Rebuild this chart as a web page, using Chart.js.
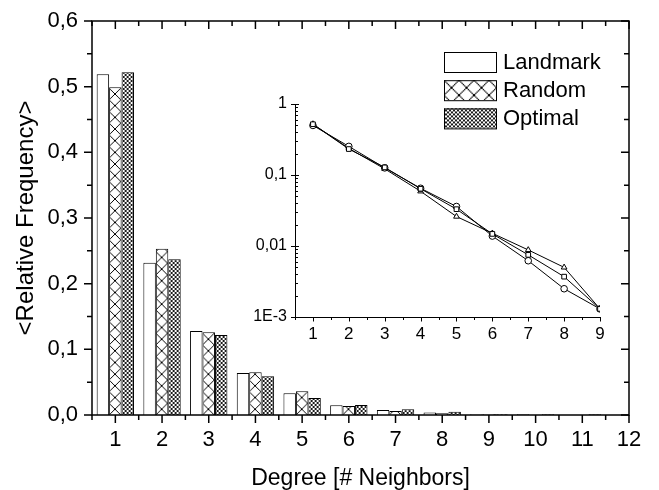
<!DOCTYPE html>
<html><head><meta charset="utf-8">
<script src="https://cdn.jsdelivr.net/npm/chart.js@4.4.1/dist/chart.umd.min.js"></script>
<style>
html,body{margin:0;padding:0;background:#fff;}
#wrap{position:relative;width:659px;height:490px;background:#fff;}
#main{position:absolute;left:0;top:0;}
#inset{position:absolute;left:240px;top:88px;}
</style></head><body>
<div id="wrap"><canvas id="main" width="659" height="490"></canvas><canvas id="inset" width="390" height="262"></canvas></div>
<script>
// ---- data ----
const degrees  = [1, 2, 3, 4, 5, 6, 7, 8, 9, 10, 11];
const landmark = [0.519, 0.232, 0.128, 0.064, 0.033, 0.0148, 0.0075, 0.0037, 0.0013, 0.0010, 0];
const random   = [0.499, 0.253, 0.126, 0.065, 0.036, 0.0138, 0.0062, 0.0025, 0.0013, 0, 0];
const optimal  = [0.522, 0.237, 0.122, 0.059, 0.026, 0.0151, 0.0088, 0.0050, 0.0013, 0.0010, 0.0010];
const seriesNames = ['Landmark', 'Random', 'Optimal'];
const xTicks = [1, 2, 3, 4, 5, 6, 7, 8, 9, 10, 11, 12];
const yTicks = [0, 0.1, 0.2, 0.3, 0.4, 0.5, 0.6];
const insetDegrees = [1, 2, 3, 4, 5, 6, 7, 8, 9];
const insetXTicks = [1, 2, 3, 4, 5, 6, 7, 8, 9];
const insetYTicks = [1, 0.1, 0.01, 0.001];
const insetYLabels = ['1', '0,1', '0,01', '1E-3'];

const FONT = 'Liberation Sans, Arial, sans-serif';

function makeTile(size, lw) {
  const c = document.createElement('canvas');
  c.width = c.height = size;
  const g = c.getContext('2d');
  g.fillStyle = '#fff'; g.fillRect(0, 0, size, size);
  g.strokeStyle = '#000'; g.lineWidth = lw;
  g.beginPath();
  for (const o of [-size, 0, size]) {
    g.moveTo(o, 0); g.lineTo(o + size, size);
    g.moveTo(o + size, 0); g.lineTo(o, size);
  }
  g.stroke();
  return c;
}

const mainCtx = document.getElementById('main').getContext('2d');
const patRandom = mainCtx.createPattern(makeTile(12, 1), 'repeat');
const patOptimal = mainCtx.createPattern(makeTile(4, 0.9), 'repeat');

const toPts = (arr, xs) => xs.map((d, i) => ({x: d, y: arr[i]}));
const comma = v => v.toFixed(1).replace('.', ',');

const patternPlugin = {
  id: 'patternAlign',
  beforeDatasetsDraw(chart) {
    const xs = chart.scales.x;
    const catW = xs.getPixelForValue(2) - xs.getPixelForValue(1);
    const b1 = chart.getDatasetMeta(1).data[0];
    const b2 = chart.getDatasetMeta(2).data[0];
    const p = catW / 4;
    patRandom.setTransform(new DOMMatrix([p / 12, 0, 0, p / 12, b1.x - b1.width / 2, b1.base]));
    patOptimal.setTransform(new DOMMatrix([1, 0, 0, 1, b2.x - b2.width / 2, b2.base]));
  }
};

const framePlugin = {
  id: 'frame',
  afterDraw(chart) {
    const {ctx, chartArea: a, scales: {x, y}} = chart;
    ctx.save();
    ctx.strokeStyle = '#000';
    ctx.lineWidth = 1.5;
    ctx.strokeRect(a.left, a.top, a.right - a.left, a.bottom - a.top);
    ctx.beginPath();
    const xMinor = xTicks.map(v => v - 0.5);
    const yMinor = yTicks.slice(1).map((v, i) => (v + yTicks[i]) / 2);
    for (const v of xTicks) {
      const px = x.getPixelForValue(v);
      ctx.moveTo(px, a.bottom); ctx.lineTo(px, a.bottom + 8);
      ctx.moveTo(px, a.top); ctx.lineTo(px, a.top + 8);
    }
    for (const v of xMinor) {
      const px = x.getPixelForValue(v);
      ctx.moveTo(px, a.bottom); ctx.lineTo(px, a.bottom + 5);
      ctx.moveTo(px, a.top); ctx.lineTo(px, a.top + 5);
    }
    for (const v of yTicks) {
      const py = y.getPixelForValue(v);
      ctx.moveTo(a.left, py); ctx.lineTo(a.left - 8, py);
      ctx.moveTo(a.right, py); ctx.lineTo(a.right - 8, py);
    }
    for (const v of yMinor) {
      const py = y.getPixelForValue(v);
      ctx.moveTo(a.left, py); ctx.lineTo(a.left - 5, py);
      ctx.moveTo(a.right, py); ctx.lineTo(a.right - 5, py);
    }
    ctx.stroke();
    // legend
    ctx.lineWidth = 1;
    ctx.font = '22px ' + FONT;
    ctx.textBaseline = 'middle';
    ctx.textAlign = 'left';
    chart.data.datasets.forEach((ds, i) => {
      const bx = a.right - 185, by = a.top + 31 + i * 28.2, bw = 52, bh = 20;
      ctx.fillStyle = ds.backgroundColor;
      if (i > 0) {
        const pat = i === 1 ? patRandom : patOptimal;
        const k = i === 1 ? 1.25 : 1;
        pat.setTransform(new DOMMatrix([k, 0, 0, k, bx, by]));
        ctx.fillStyle = pat;
      }
      ctx.fillRect(bx, by, bw, bh);
      ctx.strokeStyle = '#000';
      ctx.strokeRect(bx + 0.5, by + 0.5, bw, bh);
      ctx.fillStyle = '#000';
      ctx.fillText(ds.label, bx + 59, by + bh / 2 + 1);
    });
    ctx.restore();
  }
};

new Chart(mainCtx, {
  type: 'bar',
  data: {
    datasets: [
      {label: seriesNames[0], data: toPts(landmark, degrees), backgroundColor: '#ffffff'},
      {label: seriesNames[1], data: toPts(random, degrees), backgroundColor: patRandom},
      {label: seriesNames[2], data: toPts(optimal, degrees), backgroundColor: patOptimal}
    ].map(d => Object.assign(d, {borderColor: '#000', borderWidth: 1, categoryPercentage: 0.8, barPercentage: 1.0}))
  },
  options: {
    responsive: false, animation: false, events: [],
    layout: {padding: {top: 21, right: 30, left: 0, bottom: 0}},
    plugins: {legend: {display: false}, tooltip: {enabled: false}},
    scales: {
      x: {
        type: 'linear', min: 0.5, max: 12, offset: false,
        afterBuildTicks: s => { s.ticks = xTicks.map(v => ({value: v})); },
        afterFit: s => { s.height = 75; s.paddingLeft = 0; s.paddingRight = 0; },
        grid: {display: false, drawTicks: false, offset: false},
        border: {display: false},
        ticks: {color: '#000', font: {family: FONT, size: 22}, padding: 12, maxRotation: 0, autoSkip: false, callback: v => String(v)},
        title: {display: true, text: 'Degree [# Neighbors]', color: '#000', font: {family: FONT, size: 23, lineHeight: 1}, padding: {top: 0, bottom: 0}}
      },
      y: {
        type: 'linear', min: 0, max: 0.6,
        afterBuildTicks: s => { s.ticks = yTicks.map(v => ({value: v})); },
        afterFit: s => { s.width = 92; s.paddingTop = 0; s.paddingBottom = 0; },
        grid: {display: false, drawTicks: false},
        border: {display: false},
        ticks: {color: '#000', font: {family: FONT, size: 22}, padding: 14, callback: v => comma(v)},
        title: {display: true, text: '<Relative Frequency>', color: '#000', font: {family: FONT, size: 24, lineHeight: 1}, padding: {top: 14, bottom: 0}}
      }
    }
  },
  plugins: [patternPlugin, framePlugin]
});

// ---- inset ----
const insetAxesPlugin = {
  id: 'insetAxes',
  afterDraw(chart) {
    const {ctx, chartArea: a, scales: {x, y}} = chart;
    ctx.save();
    ctx.strokeStyle = '#000';
    ctx.lineWidth = 1;
    ctx.beginPath();
    ctx.moveTo(a.left + 0.5, a.top); ctx.lineTo(a.left + 0.5, a.bottom + 0.5); ctx.lineTo(a.right, a.bottom + 0.5);
    for (const v of insetXTicks) {
      const px = Math.round(x.getPixelForValue(v)) + 0.5;
      ctx.moveTo(px, a.bottom); ctx.lineTo(px, a.bottom + 4.5);
    }
    for (const v of insetXTicks) {
      const px = Math.round(x.getPixelForValue(v - 0.5)) + 0.5;
      ctx.moveTo(px, a.bottom); ctx.lineTo(px, a.bottom + 3);
    }
    for (const v of insetYTicks) {
      const py = Math.round(y.getPixelForValue(v)) + 0.5;
      ctx.moveTo(a.left, py); ctx.lineTo(a.left - 4, py);
      ctx.moveTo(a.left, py); ctx.lineTo(a.left + 4, py);
      if (v < 1) {
        for (let k = 2; k <= 9; k++) {
          const pm = Math.round(y.getPixelForValue(v * k)) + 0.5;
          ctx.moveTo(a.left, pm); ctx.lineTo(a.left + 3, pm);
        }
      }
    }
    ctx.stroke();
    ctx.restore();
  }
};

const markerStyles = ['rect', 'circle', 'triangle'];
new Chart(document.getElementById('inset').getContext('2d'), {
  type: 'line',
  data: {
    datasets: [landmark, random, optimal].map((arr, i) => ({
      label: seriesNames[i],
      data: toPts(arr.slice(0, insetDegrees.length), insetDegrees),
      borderColor: '#000', borderWidth: 1, fill: false, tension: 0,
      pointStyle: markerStyles[i], pointRadius: 3.3,
      pointBackgroundColor: '#fff', pointBorderColor: '#000', pointBorderWidth: 1
    }))
  },
  options: {
    responsive: false, animation: false, events: [],
    layout: {padding: {top: 16, right: 30, left: 0, bottom: 0}},
    plugins: {legend: {display: false}, tooltip: {enabled: false}},
    scales: {
      x: {
        type: 'linear', min: 0.5, max: 9,
        afterBuildTicks: s => { s.ticks = insetXTicks.map(v => ({value: v})); },
        afterFit: s => { s.height = 33; s.paddingLeft = 0; s.paddingRight = 0; },
        grid: {display: false, drawTicks: false},
        border: {display: false},
        ticks: {color: '#000', font: {family: FONT, size: 17}, padding: 7, maxRotation: 0, autoSkip: false, callback: v => String(v)}
      },
      y: {
        type: 'logarithmic', min: 0.001, max: 1,
        afterBuildTicks: s => { s.ticks = insetYTicks.map(v => ({value: v})); },
        afterFit: s => { s.width = 55; s.paddingTop = 0; s.paddingBottom = 0; },
        grid: {display: false, drawTicks: false},
        border: {display: false},
        ticks: {color: '#000', font: {family: FONT, size: 16}, padding: 8, autoSkip: false,
          callback: v => { const i = insetYTicks.findIndex(t => Math.abs(t - v) < 1e-9); return i >= 0 ? insetYLabels[i] : ''; }}
      }
    }
  },
  plugins: [insetAxesPlugin]
});
</script>
</body></html>
